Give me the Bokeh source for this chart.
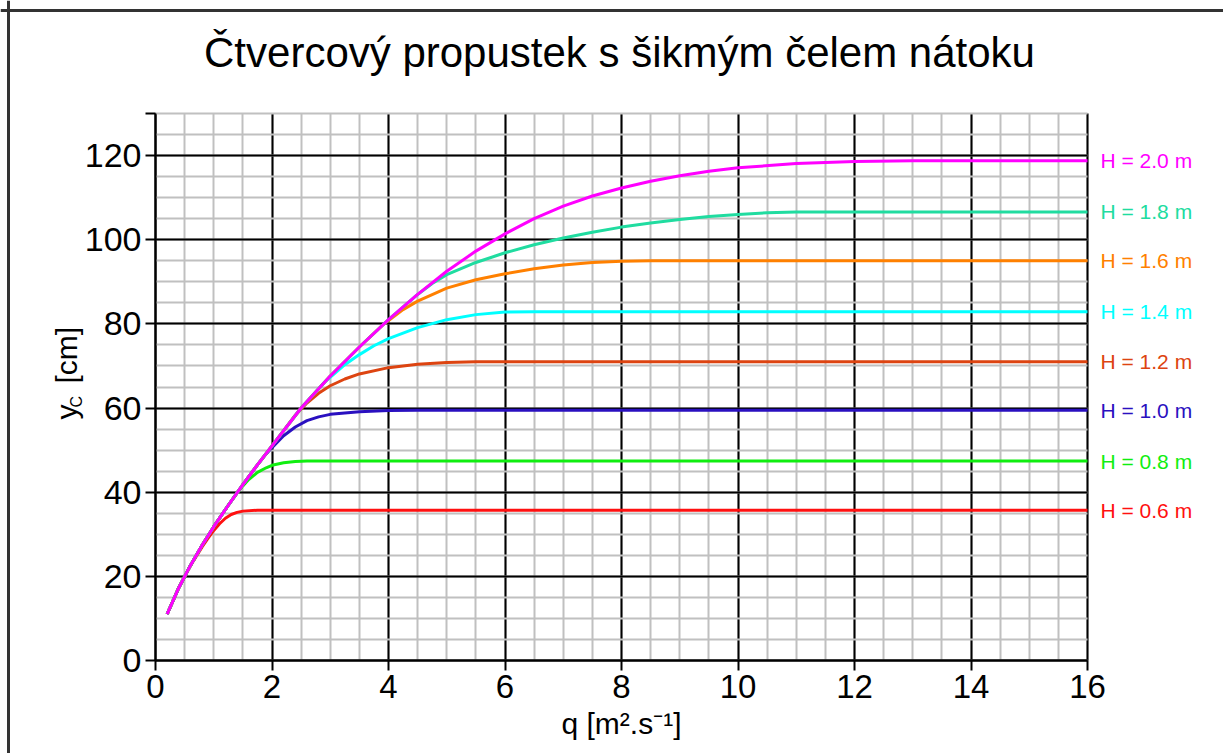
import math
from bokeh.plotting import figure
from bokeh.core.properties import value
from bokeh.models import (SingleIntervalTicker, FixedTicker, Label, LabelSet,
                          ColumnDataSource, Span, Range1d, Grid)
from bokeh.embed import file_html
from bokeh.resources import INLINE

# ---------------- data ----------------
q_20 = [0.2, 0.4, 0.6, 0.8, 1.0, 1.25, 1.5, 1.75, 2.0, 2.5, 3.0, 3.5, 4.0, 4.5, 5.0,
        5.5, 6.0, 6.5, 7.0, 7.5, 8.0, 8.5, 9.0, 9.5, 10.0, 11.0, 12.0, 13.0, 14.0, 16.0]
y_20 = [11.0, 17.3, 22.6, 27.4, 31.8, 36.9, 41.8, 46.5, 51.0, 60.0, 67.6, 74.5, 81.0, 87.0, 92.5,
        97.3, 101.4, 105.0, 108.0, 110.4, 112.3, 113.9, 115.2, 116.3, 117.1, 118.1, 118.6, 118.8, 118.8, 118.8]

q_18 = [0.2, 0.4, 0.6, 0.8, 1.0, 1.25, 1.5, 1.75, 2.0, 2.5, 3.0, 3.5, 4.0, 4.5, 4.75, 5.0, 5.5,
        6.0, 6.5, 7.0, 7.5, 8.0, 8.5, 9.0, 9.5, 10.0, 10.5, 11.0, 16.0]
y_18 = [11.0, 17.3, 22.6, 27.4, 31.8, 36.9, 41.8, 46.5, 51.0, 60.0, 67.6, 74.5, 81.0, 87.0, 89.6, 91.7, 94.6,
        96.9, 98.8, 100.4, 101.8, 103.0, 104.0, 104.8, 105.5, 106.0, 106.4, 106.6, 106.6]

q_16 = [0.2, 0.4, 0.6, 0.8, 1.0, 1.25, 1.5, 1.75, 2.0, 2.5, 3.0, 3.5, 3.9, 4.25, 4.5, 5.0, 5.5,
        6.0, 6.5, 7.0, 7.5, 8.0, 8.5, 16.0]
y_16 = [11.0, 17.3, 22.6, 27.4, 31.8, 36.9, 41.8, 46.5, 51.0, 60.0, 67.6, 74.5, 79.7, 83.4, 85.4, 88.5, 90.5,
        91.9, 93.1, 94.0, 94.6, 94.9, 95.0, 95.0]

q_14 = [0.2, 0.4, 0.6, 0.8, 1.0, 1.25, 1.5, 1.75, 2.0, 2.5, 2.9, 3.25, 3.5, 3.75, 4.0, 4.5, 5.0,
        5.5, 6.0, 6.5, 16.0]
y_14 = [11.0, 17.3, 22.6, 27.4, 31.8, 36.9, 41.8, 46.5, 51.0, 60.0, 66.1, 70.3, 72.7, 74.8, 76.5, 79.1, 81.0,
        82.2, 82.8, 82.9, 82.9]

q_12 = [0.2, 0.4, 0.6, 0.8, 1.0, 1.25, 1.5, 1.75, 2.0, 2.4, 2.6, 2.8, 3.0, 3.25, 3.5, 4.0, 4.5,
        5.0, 5.5, 16.0]
y_12 = [11.0, 17.3, 22.6, 27.4, 31.8, 36.9, 41.8, 46.5, 51.0, 58.3, 61.2, 63.5, 65.3, 66.9, 68.1, 69.6, 70.4,
        70.8, 71.0, 71.0]

q_10 = [0.2, 0.4, 0.6, 0.8, 1.0, 1.25, 1.5, 1.75, 1.9, 2.0, 2.2, 2.4, 2.6, 2.8, 3.0, 3.5, 4.0,
        4.5, 16.0]
y_10 = [11.0, 17.3, 22.6, 27.4, 31.8, 36.9, 41.8, 46.5, 49.1, 50.6, 53.4, 55.5, 57.0, 57.9, 58.5, 59.1, 59.4,
        59.5, 59.5]

q_08 = [0.2, 0.4, 0.6, 0.8, 1.0, 1.25, 1.4, 1.5, 1.6, 1.75, 1.9, 2.0, 2.2, 2.4, 2.6, 16.0]
y_08 = [11.0, 17.3, 22.6, 27.4, 31.8, 36.9, 39.8, 41.5, 43.0, 44.7, 45.8, 46.4, 47.0, 47.3, 47.4, 47.4]

q_06 = [0.2, 0.4, 0.6, 0.8, 0.9, 1.0, 1.1, 1.2, 1.3, 1.4, 1.5, 1.75, 2.0, 16.0]
y_06 = [11.0, 17.3, 22.5, 27.0, 29.0, 30.9, 32.5, 33.8, 34.7, 35.2, 35.5, 35.7, 35.7, 35.7]

series_names = ["H = 0.6 m", "H = 0.8 m", "H = 1.0 m", "H = 1.2 m",
                "H = 1.4 m", "H = 1.6 m", "H = 1.8 m", "H = 2.0 m"]
series_q = [q_06, q_08, q_10, q_12, q_14, q_16, q_18, q_20]
series_y = [y_06, y_08, y_10, y_12, y_14, y_16, y_18, y_20]
series_colors = ["#ff1010", "#10ee10", "#2a10c0", "#dd4411",
                 "#00ffff", "#ff8000", "#20dca0", "#ff00ff"]

x_min, x_max = 0, 16
y_min, y_max = 0, 130
y_tick_values = [0, 20, 40, 60, 80, 100, 120, 130]

title_text = "Čtvercový propustek s šikmým čelem nátoku"
x_label = "q [m².s⁻¹]"

FONT = "Liberation Sans"

# ---------------- layout: data area placed at fixed pixels ----------------
W, H = 1223, 753
left_px, right_px, top_px, bottom_px = 155, 1087, 113, 660
sx = (right_px - left_px) / (x_max - x_min)
sy = (bottom_px - top_px) / (y_max - y_min)
x_range = Range1d(x_min - left_px / sx, x_max + (W - right_px) / sx)
y_range = Range1d(y_min - (H - bottom_px) / sy, y_max + top_px / sy)


def px_x(px):
    return x_min + (px - left_px) / sx


def px_y(py):
    return y_min + (bottom_px - py) / sy


p = figure(width=W, height=H, x_range=x_range, y_range=y_range,
           output_backend="svg", toolbar_location=None, min_border=0,
           x_axis_location="below", y_axis_location="left")
p.outline_line_color = None
p.background_fill_color = "white"
p.border_fill_color = "white"

# axes pinned to the data origin
p.xaxis.ticker = SingleIntervalTicker(interval=2, num_minor_ticks=4)
p.yaxis.ticker = FixedTicker(ticks=y_tick_values)
p.yaxis.major_label_overrides = {130: ""}
p.xaxis.fixed_location = y_min
p.yaxis.fixed_location = x_min
p.xaxis.bounds = (x_min, x_max)
p.yaxis.bounds = (y_min, y_max)
for ax in (p.xaxis[0], p.yaxis[0]):
    ax.axis_line_color = "black"
    ax.axis_line_width = 2
    ax.major_tick_line_color = "black"
    ax.major_tick_line_width = 2
    ax.major_tick_out = 10
    ax.major_tick_in = 0
    ax.minor_tick_line_color = None
    ax.major_label_text_font = FONT
    ax.major_label_text_font_size = "33px"
    ax.major_label_text_color = "black"
    ax.major_label_standoff = 4
p.yaxis.major_label_text_font_size = "34px"
p.xaxis.axis_label = x_label
p.xaxis.axis_label_text_font = FONT
p.xaxis.axis_label_text_font_size = "30px"
p.xaxis.axis_label_text_font_style = "normal"
p.xaxis.axis_label_text_color = "black"
p.xaxis.axis_label_standoff = 6

# grids, limited to the data area
p.xgrid.ticker = SingleIntervalTicker(interval=2, num_minor_ticks=4)
p.ygrid.ticker = SingleIntervalTicker(interval=20, num_minor_ticks=4)
p.xgrid.bounds = (x_min, x_max)
p.ygrid.bounds = (y_min, y_max)
has_cross = "cross_bounds" in Grid.properties()
if has_cross:
    p.xgrid.cross_bounds = (y_min, y_max)
    p.ygrid.cross_bounds = (x_min, x_max)
for g in (p.xgrid[0], p.ygrid[0]):
    g.grid_line_color = "black"
    g.grid_line_width = 2
    g.minor_grid_line_color = "#c0c0c0"
    g.minor_grid_line_width = 2
    g.level = "underlay"
if not has_cross:
    p.xgrid.visible = False
    p.ygrid.visible = False
    xs_minor = [v / 2 for v in range(1, 32) if v % 4 != 0]
    xs_major = [v for v in range(0, 17, 2)]
    ys_minor = [v for v in range(5, 131, 5) if v % 20 != 0]
    ys_major = [v for v in range(0, 121, 20)]
    p.segment(xs_minor, [y_min] * len(xs_minor), xs_minor, [y_max] * len(xs_minor),
              line_color="#c0c0c0", line_width=2, level="underlay")
    p.segment([x_min] * len(ys_minor), ys_minor, [x_max] * len(ys_minor), ys_minor,
              line_color="#c0c0c0", line_width=2, level="underlay")
    p.segment(xs_major, [y_min] * len(xs_major), xs_major, [y_max] * len(xs_major),
              line_color="black", line_width=2, level="underlay")
    p.segment([x_min] * len(ys_major), ys_major, [x_max] * len(ys_major), ys_major,
              line_color="black", line_width=2, level="underlay")

# curves
for qs, ys, c in zip(series_q, series_y, series_colors):
    p.line(qs, ys, line_color=c, line_width=3, line_join="round")

# labels at the right end of each curve
lab_src = ColumnDataSource(dict(
    x=[qs[-1] for qs in series_q],
    y=[ys[-1] for ys in series_y],
    text=series_names,
    color=series_colors,
))
p.add_layout(LabelSet(x="x", y="y", text="text", source=lab_src,
                      x_offset=13, text_color="color", text_align="left",
                      text_baseline="middle", text_font=value(FONT),
                      text_font_size=value("21px")))

# title
p.add_layout(Label(x=px_x(619), y=px_y(52), text=title_text, text_align="center",
                   text_baseline="middle", text_font=FONT,
                   text_font_size="42px", text_color="black"))

# y axis label: y with subscript C, then [cm]
p.add_layout(Label(x=px_x(66), y=px_y(419), text="y", angle=math.pi / 2,
                   text_align="left", text_baseline="alphabetic",
                   text_font=FONT, text_font_size="30px", text_color="black"))
p.add_layout(Label(x=px_x(76), y=px_y(407), text="C", angle=math.pi / 2,
                   text_align="left", text_baseline="alphabetic",
                   text_font=FONT, text_font_size="16px", text_color="black"))
p.add_layout(Label(x=px_x(66), y=px_y(383), text="[cm]", angle=math.pi / 2,
                   text_align="left", text_baseline="alphabetic",
                   text_font=FONT, text_font_size="30px", text_color="black"))

# outer frame of the picture (left and top edges visible)
p.add_layout(Span(location=px_x(8), dimension="height",
                  line_color="#333333", line_width=3, level="overlay"))
p.add_layout(Span(location=px_y(10), dimension="width",
                  line_color="#333333", line_width=3, level="overlay"))

open("out.html", "w").write(file_html(p, INLINE))
